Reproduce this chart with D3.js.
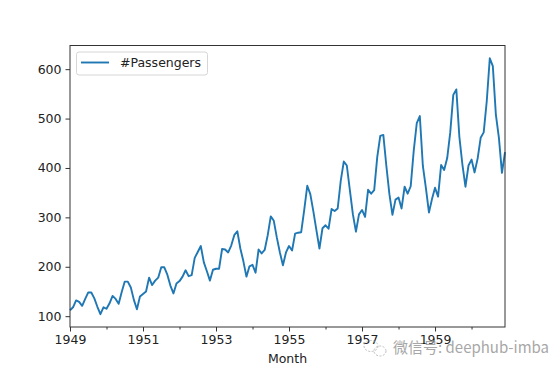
<!DOCTYPE html>
<html>
<head>
<meta charset="utf-8">
<script src="https://cdn.jsdelivr.net/npm/d3@7"></script>
<style>
  body { margin: 0; background: #fff; }
  svg text { font-family: "DejaVu Sans", sans-serif; }
</style>
</head>
<body>
<div id="chart"></div>
<script>
// AirPassengers, monthly 1949-1960
var years = [1949, 1950, 1951, 1952, 1953, 1954, 1955, 1956, 1957, 1958, 1959, 1960];
var passengers = [
    112, 118, 132, 129, 121, 135, 148, 148, 136, 119, 104, 118,
    115, 126, 141, 135, 125, 149, 170, 170, 158, 133, 114, 140,
    145, 150, 178, 163, 172, 178, 199, 199, 184, 162, 146, 166,
    171, 180, 193, 181, 183, 218, 230, 242, 209, 191, 172, 194,
    196, 196, 236, 235, 229, 243, 264, 272, 237, 211, 180, 201,
    204, 188, 235, 227, 234, 264, 302, 293, 259, 229, 203, 229,
    242, 233, 267, 269, 270, 315, 364, 347, 312, 274, 237, 278,
    284, 277, 317, 313, 318, 374, 413, 405, 355, 306, 271, 306,
    315, 301, 356, 348, 355, 422, 465, 467, 404, 347, 305, 336,
    340, 318, 362, 348, 363, 435, 491, 505, 404, 359, 310, 337,
    360, 342, 406, 396, 420, 472, 548, 559, 463, 407, 362, 405,
    417, 391, 419, 461, 472, 535, 622, 606, 508, 461, 390, 432
];
var yTicks = [100, 200, 300, 400, 500, 600];
var majorYears = [1949, 1951, 1953, 1955, 1957, 1959];
var seriesName = "#Passengers";

var width = 560, height = 373;
var plotLeft = 70, plotRight = 505, plotTop = 45.5, plotBottom = 327;

var points = passengers.map(function (v, i) {
    return {t: years[0] + i / 12, v: v};
});

var svg = d3.select("#chart").append("svg")
    .attr("width", width)
    .attr("height", height);

var x = d3.scaleLinear()
    .domain([years[0], years[0] + (passengers.length - 1) / 12])
    .range([plotLeft, plotRight]);

var lo = d3.min(passengers), hi = d3.max(passengers), pad = (hi - lo) * 0.05;
var y = d3.scaleLinear()
    .domain([lo - pad, hi + pad])
    .range([plotBottom, plotTop]);

// series line
var line = d3.line()
    .x(function (d) { return x(d.t); })
    .y(function (d) { return y(d.v); });

svg.append("path")
    .datum(points)
    .attr("fill", "none")
    .attr("stroke", "#1f77b4")
    .attr("stroke-width", 1.9)
    .attr("stroke-linejoin", "round")
    .attr("d", line);

// axes
svg.append("g")
    .attr("transform", "translate(0," + plotBottom + ")")
    .call(d3.axisBottom(x).tickValues(majorYears).tickFormat(d3.format("d")).tickSize(4.5).tickPadding(4));

svg.append("g")
    .attr("transform", "translate(0," + plotBottom + ")")
    .call(d3.axisBottom(x).tickValues(years.filter(function (d) { return majorYears.indexOf(d) < 0; }))
        .tickFormat("").tickSize(2.5));

svg.append("g")
    .attr("transform", "translate(" + plotLeft + ",0)")
    .call(d3.axisLeft(y).tickValues(yTicks).tickSize(4.5).tickPadding(4));

svg.selectAll(".domain").remove();
svg.selectAll(".tick line").attr("stroke", "#333");
svg.selectAll(".tick text")
    .attr("fill", "#222")
    .style("font-size", "12.5px");

// frame
svg.append("rect")
    .attr("x", plotLeft).attr("y", plotTop)
    .attr("width", plotRight - plotLeft).attr("height", plotBottom - plotTop)
    .attr("fill", "none")
    .attr("stroke", "#333")
    .attr("stroke-width", 1);

// x label
svg.append("text")
    .attr("x", (plotLeft + plotRight) / 2)
    .attr("y", 363)
    .attr("text-anchor", "middle")
    .attr("fill", "#222")
    .style("font-size", "12.5px")
    .text("Month");

// legend
var lg = svg.append("g");
lg.append("rect")
    .attr("x", 76.5).attr("y", 52)
    .attr("width", 131).attr("height", 23)
    .attr("rx", 2.5)
    .attr("fill", "#fff")
    .attr("fill-opacity", 0.8)
    .attr("stroke", "#d6d6d6");
lg.append("line")
    .attr("x1", 81).attr("x2", 109)
    .attr("y1", 62.5).attr("y2", 62.5)
    .attr("stroke", "#1f77b4")
    .attr("stroke-width", 1.9);
lg.append("text")
    .attr("x", 120).attr("y", 67)
    .attr("fill", "#222")
    .style("font-size", "12.5px")
    .text(seriesName);

// watermark
var wm = svg.append("g").attr("opacity", 0.75);
wm.append("ellipse")
    .attr("cx", 371).attr("cy", 346).attr("rx", 7).attr("ry", 5.5)
    .attr("fill", "none").attr("stroke", "#aaa").attr("stroke-dasharray", "2,1.5");
wm.append("ellipse")
    .attr("cx", 380).attr("cy", 351).attr("rx", 6).attr("ry", 5)
    .attr("fill", "none").attr("stroke", "#aaa").attr("stroke-dasharray", "2,1.5");
wm.append("text")
    .attr("x", 393).attr("y", 353)
    .attr("fill", "#8a8a8a")
    .attr("stroke", "#fff").attr("stroke-width", 0.6).attr("paint-order", "stroke")
    .style("font-family", "'Noto Sans CJK SC', 'DejaVu Sans', sans-serif")
    .style("font-size", "15px")
    .text("微信号: deephub-imba");
</script>
</body>
</html>
